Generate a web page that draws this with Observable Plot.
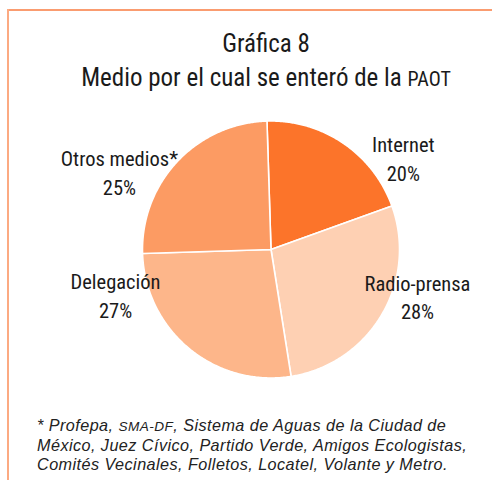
<!DOCTYPE html>
<html><head><meta charset="utf-8">
<script src="https://cdn.jsdelivr.net/npm/d3@7"></script>
<script src="https://cdn.jsdelivr.net/npm/@observablehq/plot@0.6"></script>
<style>
body{margin:0;background:#fff;}
#page{position:relative;width:492px;height:480px;overflow:hidden;background:#fff;}
#frameTop{position:absolute;left:7px;top:9px;width:485px;height:2px;background:#FA9C70;}
#frameLeft{position:absolute;left:7px;top:9px;width:2px;height:471px;background:#FCAA82;}
.title{position:absolute;left:0;width:532px;text-align:center;font-family:Roboto,sans-serif;font-stretch:condensed;font-weight:400;font-size:25px;line-height:34px;color:#1a1a1a;white-space:nowrap;}
.sc{font-size:0.8em;}
#note{position:absolute;left:37px;top:415.5px;font-family:"Liberation Sans",Arial,sans-serif;font-style:italic;font-size:16.2px;line-height:19.2px;letter-spacing:0.45px;color:#222;white-space:nowrap;}
#note .sc{font-size:0.84em;}
#chart{position:absolute;left:0;top:100px;}
</style>
</head><body>
<div id="page">
  <div id="frameTop"></div><div id="frameLeft"></div>
  <div class="title" style="top:27px">Gráfica 8</div>
  <div class="title" style="top:61px">Medio por el cual se enteró de la <span class="sc">PAOT</span></div>
  <div id="chart"></div>
  <div id="note">* Profepa, <span class="sc">SMA-DF</span>, Sistema de Aguas de la Ciudad de<br>México, Juez Cívico, Partido Verde, Amigos Ecologistas,<br>Comités Vecinales, Folletos, Locatel, Volante y Metro.</div>
</div>
<script>
// Data
const categories = ["Internet", "Radio-prensa", "Delegación", "Otros medios*"];
const shares = [20, 28, 27, 25];
const sliceColors = ["#FC742A", "#FED0B3", "#FDB68A", "#FC9B63"];
// label anchor layout (data units relative to pie centre, radius = 1)
const labelX = [1.03, 1.14, -1.21, -1.18];
const labelY = [0.72, -0.36, -0.35, 0.61];

const startDeg = -1.8;
const arcs = d3.pie().sort(null)
  .startAngle(startDeg * Math.PI / 180)
  .endAngle(startDeg * Math.PI / 180 + 2 * Math.PI)(shares);

const slices = arcs.map((a, i) => {
  const pts = [{x: 0, y: 0}];
  const n = Math.max(2, Math.ceil((a.endAngle - a.startAngle) / (Math.PI / 360)));
  for (let k = 0; k <= n; k++) {
    const t = a.startAngle + (a.endAngle - a.startAngle) * k / n;
    pts.push({x: Math.sin(t), y: Math.cos(t)});
  }
  return {name: categories[i], color: sliceColors[i], pts};
});

const labels = categories.map((c, i) => ({text: c + "\n" + shares[i] + "%", x: labelX[i], y: labelY[i]}));

const R = 128.5, cx = 270.5, cy = 149;
const chart = Plot.plot({
  width: 492,
  height: 300,
  margin: 0,
  x: {domain: [-1, 1], range: [cx - R, cx + R], axis: null},
  y: {domain: [-1, 1], range: [cy + R, cy - R], axis: null},
  style: {background: "transparent", overflow: "visible", fontFamily: "Roboto, sans-serif", fontStretch: "condensed", fontWeight: 400},
  marks: [
    ...slices.map(s => Plot.line(s.pts, {x: "x", y: "y", curve: "linear-closed", fill: s.color, stroke: "#ffffff", strokeWidth: 1.6, strokeLinejoin: "round"})),
    Plot.text(labels, {x: "x", y: "y", text: "text", fontSize: 20.5, lineHeight: 1.4, fill: "#1a1a1a", textAnchor: "middle"})
  ]
});
document.getElementById("chart").appendChild(chart);
</script>
</body></html>
